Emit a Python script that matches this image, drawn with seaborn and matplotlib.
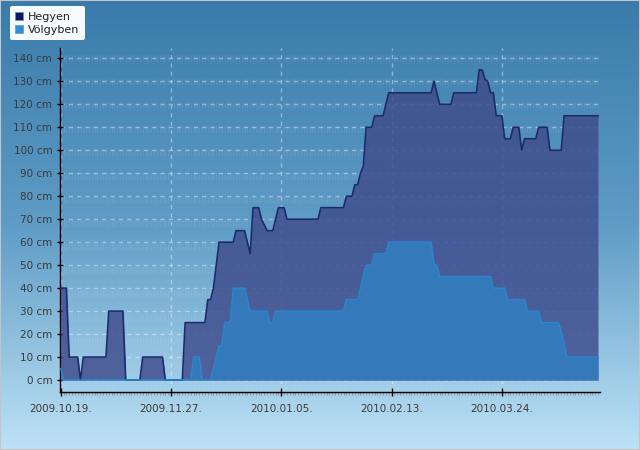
import matplotlib
matplotlib.use("Agg")
import matplotlib.pyplot as plt
import matplotlib.dates as mdates
from matplotlib.colors import LinearSegmentedColormap
from matplotlib.lines import Line2D
from matplotlib.patches import Rectangle
import numpy as np
import pandas as pd
import seaborn as sns

start_date = pd.Timestamp("2009-10-19")

# snow depth (cm), day offset from start_date -> value at each change of the daily series
hegyen_days = [0, 2, 3, 6, 7, 8, 16, 17, 22, 23, 28, 29, 36, 37, 43, 44, 51, 52, 53, 54,
               55, 56, 61, 62, 65, 67, 68, 70, 71, 73, 75, 77, 79, 80, 91, 92, 100, 101,
               103, 104, 105, 106, 107, 108, 110, 111, 114, 116, 131, 132, 134, 138, 139,
               147, 148, 149, 150, 151, 152, 153, 154, 156, 157, 159, 160, 162, 163, 164,
               168, 169, 172, 173, 177, 178, 190]
hegyen_cm = [40, 40, 10, 10, 0, 10, 10, 30, 30, 0, 0, 10, 10, 0, 0, 25, 25, 35, 35, 40,
             50, 60, 60, 65, 65, 55, 75, 75, 70, 65, 65, 75, 75, 70, 70, 75, 75, 80,
             80, 85, 85, 90, 93, 110, 110, 115, 115, 125, 125, 130, 120, 120, 125,
             125, 135, 135, 131, 130, 125, 125, 115, 115, 105, 105, 110, 110, 100, 105,
             105, 110, 110, 100, 100, 115, 115]

volgyben_days = [0, 1, 46, 47, 49, 50, 53, 54, 55, 56, 57, 58, 60, 61, 65, 67, 73, 74, 75,
                 76, 100, 101, 105, 106, 107, 108, 110, 111, 115, 116, 131, 132, 133, 134,
                 152, 153, 157, 158, 164, 165, 169, 170, 176, 177, 178, 179, 190]
volgyben_cm = [5, 0, 0, 10, 10, 0, 0, 5, 10, 15, 15, 25, 25, 40, 40, 30, 30, 25, 25,
               30, 30, 35, 35, 40, 45, 50, 50, 55, 55, 60, 60, 50, 50, 45,
               45, 40, 40, 35, 35, 30, 30, 25, 25, 21, 16, 10, 10]

series_names = ["Hegyen", "Völgyben"]
fill_colors = {"Hegyen": "#3f4d8d", "Völgyben": "#3479b9"}
line_colors = {"Hegyen": "#1d2a6c", "Völgyben": "#2b86cf"}
legend_colors = {"Hegyen": "#0f1566", "Völgyben": "#2a90dc"}

tick_days = [0, 39, 78, 117, 156]
y_ticks = list(range(0, 150, 10))

frames = []
for name, days, vals in [("Hegyen", hegyen_days, hegyen_cm),
                         ("Völgyben", volgyben_days, volgyben_cm)]:
    frames.append(pd.DataFrame({"hely": name,
                                "datum": start_date + pd.to_timedelta(days, unit="D"),
                                "cm": vals}))
df = pd.concat(frames, ignore_index=True)

fig = plt.figure(figsize=(6.4, 4.5), dpi=100)

# background gradient
bg = fig.add_axes([0, 0, 1, 1], zorder=-10)
grad_cmap = LinearSegmentedColormap.from_list("bg", ["#3a7bab", "#5f9cc6", "#bde2f6"])
bg.imshow(np.linspace(0, 1, 256).reshape(-1, 1), aspect="auto", cmap=grad_cmap,
          extent=[0, 1, 0, 1])
bg.set_axis_off()
fig.patches.append(Rectangle((0, 0), 1, 1, transform=fig.transFigure, fill=False,
                             edgecolor="#c4c4c4", linewidth=1.5))

ax = fig.add_axes([60 / 640, 1 - 392 / 450, 540 / 640, 344 / 450])
ax.set_facecolor("none")

for name in series_names:
    sub = df[df["hely"] == name]
    alpha = 0.84 if name == "Hegyen" else 1.0
    ax.fill_between(sub["datum"], sub["cm"], 0, color=fill_colors[name], alpha=alpha,
                    linewidth=0, zorder=2 if name == "Hegyen" else 3)

sns.lineplot(data=df[df["hely"] == "Hegyen"], x="datum", y="cm", color=line_colors["Hegyen"],
             linewidth=1.2, estimator=None, sort=False, ax=ax, zorder=4)
sns.lineplot(data=df[df["hely"] == "Völgyben"], x="datum", y="cm", color=line_colors["Völgyben"],
             linewidth=1.1, estimator=None, sort=False, ax=ax, zorder=5)

ax.set_xlim(start_date - pd.Timedelta(hours=6), start_date + pd.Timedelta(days=190.7))
ax.set_ylim(-5.2, 144.5)

ax.set_xticks([start_date + pd.Timedelta(days=d) for d in tick_days])
ax.xaxis.set_major_formatter(mdates.DateFormatter("%Y.%m.%d."))
ax.xaxis.set_minor_locator(mdates.DayLocator())
ax.set_yticks(y_ticks)
ax.set_yticklabels([f"{v} cm" for v in y_ticks])

ax.grid(axis="both", which="major", color="white", alpha=0.4, linestyle=(0, (3, 3)),
        linewidth=1, zorder=1)
ax.grid(axis="x", which="minor", color="white", alpha=0.08, linestyle=(0, (5, 12)),
        linewidth=1, zorder=1)
ax.set_axisbelow(True)

ax.tick_params(axis="both", which="major", labelsize=7.5, labelcolor="#3a3a3a",
               color="black", width=1)
ax.tick_params(axis="x", which="major", direction="inout", length=6, pad=6)
ax.tick_params(axis="y", which="major", direction="inout", length=5, pad=3)
ax.tick_params(axis="x", which="minor", direction="out", length=2, color="#8a9aa6", width=0.8)
ax.tick_params(axis="y", which="minor", left=False)

for side in ["top", "right"]:
    ax.spines[side].set_visible(False)
for side in ["left", "bottom"]:
    ax.spines[side].set_color("black")
    ax.spines[side].set_linewidth(1)
ax.set_xlabel("")
ax.set_ylabel("")

handles = [Line2D([], [], marker="s", linestyle="none", markersize=5.5,
                  markerfacecolor=legend_colors[n], markeredgecolor="#6f8fb0",
                  markeredgewidth=0.5, label=n) for n in series_names]
leg = fig.legend(handles=handles, loc="upper left", bbox_to_anchor=(10 / 640, 1 - 6 / 450),
                 fontsize=8, frameon=True, fancybox=True, borderpad=0.5,
                 handlelength=0.7, handletextpad=0.45, labelspacing=0.3,
                 borderaxespad=0)
leg.get_frame().set_facecolor("#f6fbff")
leg.get_frame().set_edgecolor("none")
leg.get_frame().set_alpha(1)
for t in leg.get_texts():
    t.set_color("#222222")

fig.savefig("out.png", dpi=100)
